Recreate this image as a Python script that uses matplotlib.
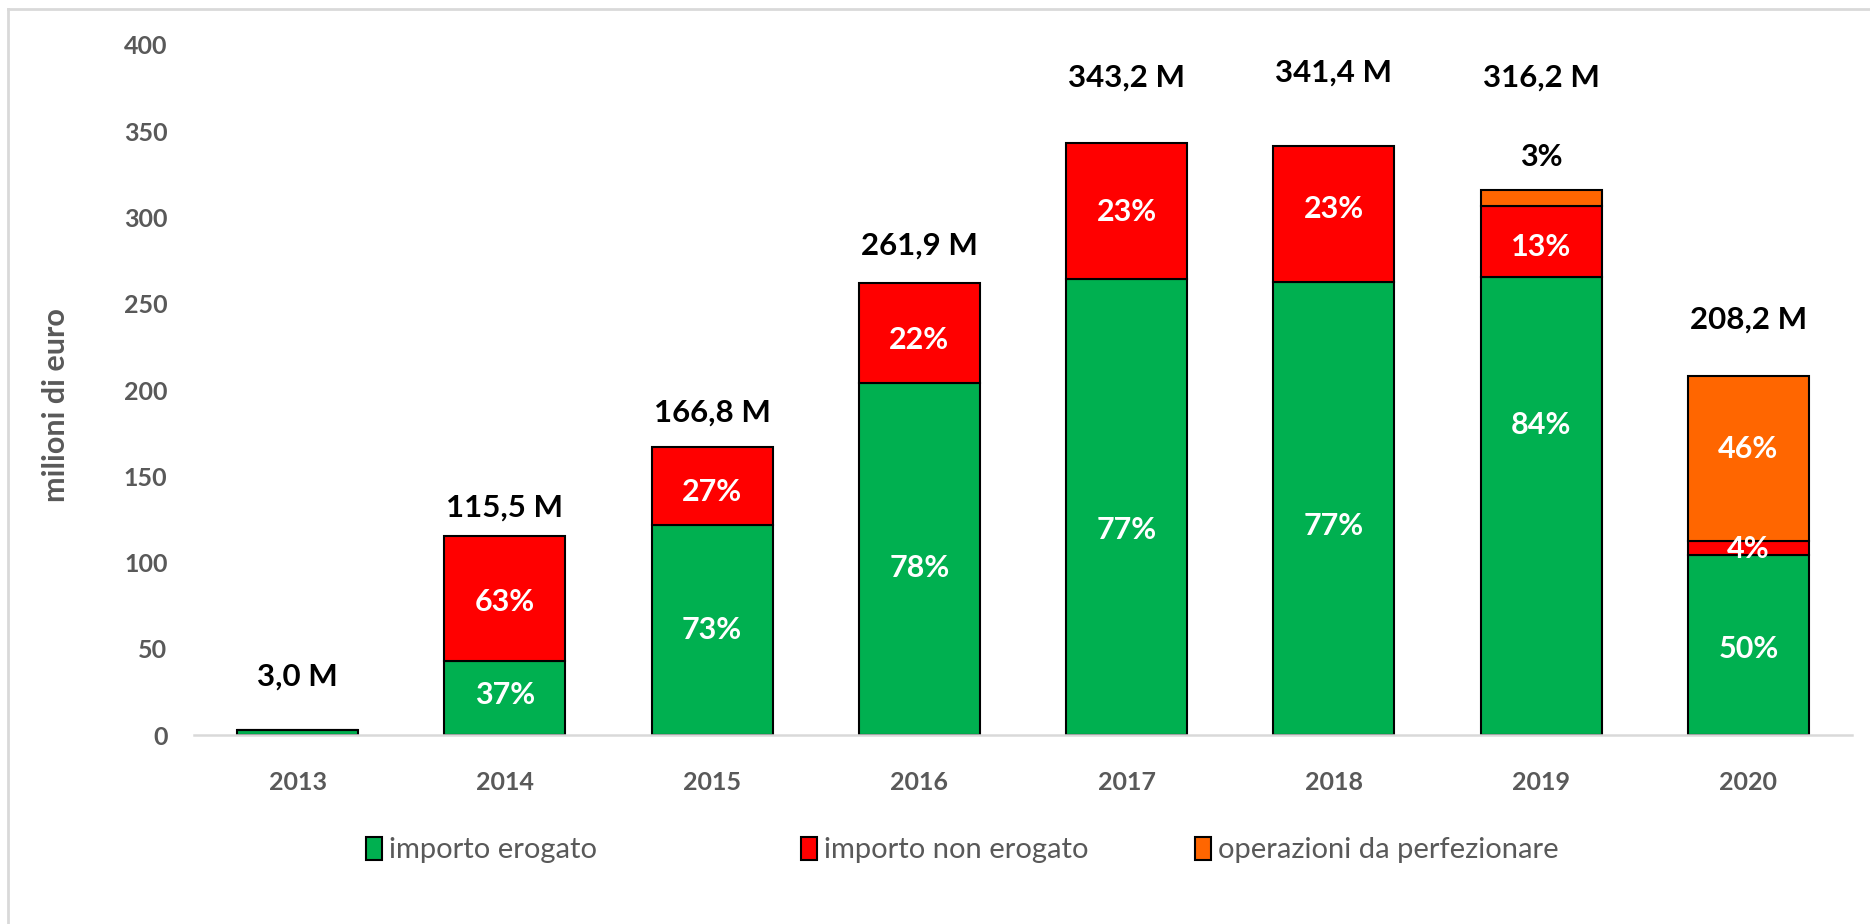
import matplotlib
matplotlib.use("Agg")
import matplotlib.pyplot as plt
from matplotlib.patches import Patch
from matplotlib.lines import Line2D

# data (milioni di euro)
years = ['2013', '2014', '2015', '2016', '2017', '2018', '2019', '2020']
erogato = [3.0, 42.7, 121.8, 204.3, 264.3, 262.9, 265.6, 104.1]
non_erogato = [0.0, 72.8, 45.0, 57.6, 78.9, 78.5, 41.1, 8.3]
da_perfezionare = [0.0, 0.0, 0.0, 0.0, 0.0, 0.0, 9.5, 95.8]
totali = [3.0, 115.5, 166.8, 261.9, 343.2, 341.4, 316.2, 208.2]

pct_erogato = ['', '37%', '73%', '78%', '77%', '77%', '84%', '50%']
pct_non_erogato = ['', '63%', '27%', '22%', '23%', '23%', '13%', '4%']
pct_perfezionare = ['', '', '', '', '', '', '3%', '46%']

# label heights (data units), placed as in the original
y_tot = [34, 132, 187, 284, 381, 384, 381, 241]
y_ero = [0, 23, 61, 97, 119, 121, 180, 50]
y_non = [0, 77, 141, 229, 303, 305, 283, 108]
y_perf = [0, 0, 0, 0, 0, 0, 335, 166]

GREEN = '#00B050'
RED = '#FF0000'
ORANGE = '#FF6600'
GREY = '#595959'

plt.rcParams['font.family'] = ['Lato', 'DejaVu Sans']

fig = plt.figure(figsize=(18.7, 9.24), dpi=100)
ax = fig.add_axes([0.1037, 0.2045, 0.8867, 0.7468])

x = list(range(len(years)))
w = 0.584
bottom2 = [a + b for a, b in zip(erogato, non_erogato)]
ax.bar(x, erogato, w, color=GREEN, edgecolor='black', linewidth=1.5, zorder=3)
ax.bar(x, non_erogato, w, bottom=erogato, color=RED, edgecolor='black', linewidth=1.5, zorder=3)
mask = [v > 0 for v in da_perfezionare]
ax.bar([i for i, m in zip(x, mask) if m], [v for v, m in zip(da_perfezionare, mask) if m], w,
       bottom=[b for b, m in zip(bottom2, mask) if m],
       color=ORANGE, edgecolor='black', linewidth=1.5, zorder=3)

for i in x:
    ax.text(i, y_tot[i], f"{totali[i]:.1f}".replace('.', ',') + ' M', ha='center', va='center',
            fontsize=22.5, fontweight='bold', color='black', zorder=5)
    if pct_erogato[i]:
        ax.text(i, y_ero[i], pct_erogato[i], ha='center', va='center', fontsize=22,
                fontweight='bold', color='white', zorder=5)
    if pct_non_erogato[i]:
        ax.text(i, y_non[i], pct_non_erogato[i], ha='center', va='center', fontsize=22,
                fontweight='bold', color='white', zorder=5)
    if pct_perfezionare[i]:
        # the small 2019 share sits above the bar, in black
        col = 'black' if y_perf[i] > totali[i] else 'white'
        ax.text(i, y_perf[i], pct_perfezionare[i], ha='center', va='center', fontsize=22,
                fontweight='bold', color=col, zorder=5)

ax.set_xlim(-0.5, len(years) - 0.5)
ax.set_ylim(0, 400)
ax.set_yticks(range(0, 401, 50))
ax.set_xticks(x)
ax.set_xticklabels(years)
ax.tick_params(axis='both', length=0, labelsize=18, labelcolor=GREY)
ax.tick_params(axis='x', pad=26)
ax.tick_params(axis='y', pad=19)
for lab in ax.get_xticklabels() + ax.get_yticklabels():
    lab.set_fontweight('bold')

for s in ['top', 'right', 'left']:
    ax.spines[s].set_visible(False)
ax.spines['bottom'].set_color('#D9D9D9')
ax.spines['bottom'].set_linewidth(1.8)
ax.spines['bottom'].set_zorder(4)

ax.set_ylabel('milioni di euro', fontsize=22, color=GREY, fontweight='bold')
ax.yaxis.set_label_coords(-0.075, 0.478)

# legend entries placed one by one, like the original
labels = ['importo erogato', 'importo non erogato', 'operazioni da perfezionare']
colors = [GREEN, RED, ORANGE]
leg_x = [366 / 1870, 801 / 1870, 1195 / 1870]
for lab, col, lx in zip(labels, colors, leg_x):
    h = Patch(facecolor=col, edgecolor='black', linewidth=1.5, label=lab)
    leg = fig.legend(handles=[h], loc='center left', bbox_to_anchor=(lx, 0.08),
                     frameon=False, fontsize=21, handlelength=0.55, handleheight=0.85,
                     handletextpad=0.25, borderpad=0, borderaxespad=0)
    for t in leg.get_texts():
        t.set_color(GREY)

# light frame of the original chart area
fig.add_artist(Line2D([8 / 1870, 1], [1 - 9 / 924, 1 - 9 / 924], transform=fig.transFigure,
                      color='#D9D9D9', linewidth=2))
fig.add_artist(Line2D([8 / 1870, 8 / 1870], [0, 1 - 9 / 924], transform=fig.transFigure,
                      color='#D9D9D9', linewidth=2))

fig.savefig('out.png', dpi=100)
